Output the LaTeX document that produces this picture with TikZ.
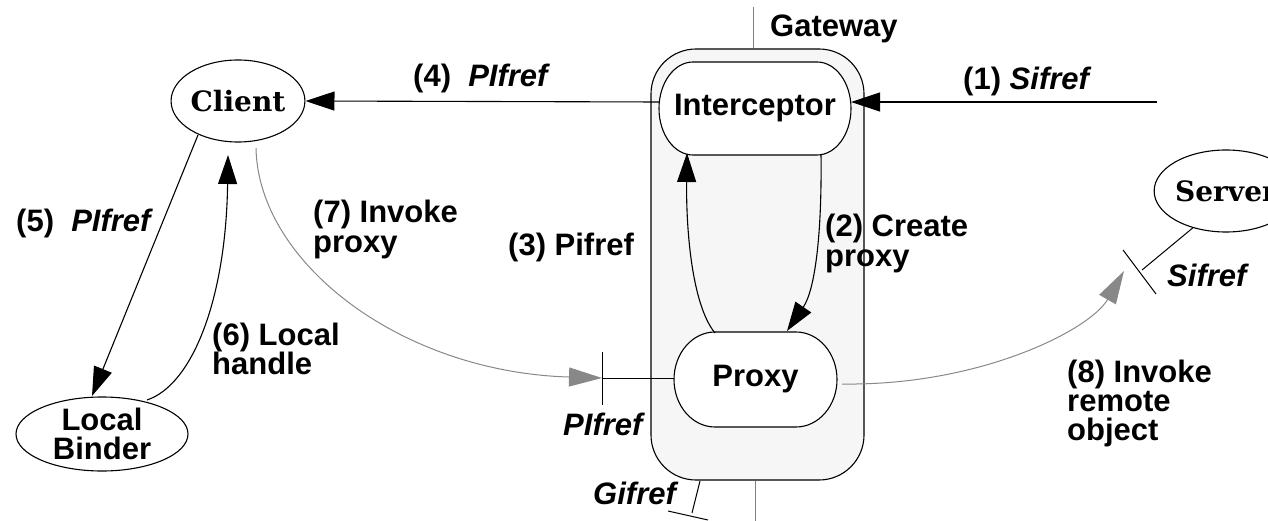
\documentclass[tikz,border=0pt]{standalone}
\usepackage{fontspec}
\setmainfont{Liberation Sans}
\newfontfamily\serifbf{DejaVu Serif}
\usetikzlibrary{arrows.meta,shapes.geometric}
\definecolor{boxfill}{HTML}{F6F6F6}
\definecolor{flow}{HTML}{888888}
\newcommand{\lblfont}{\fontsize{31}{29}\selectfont\bfseries}
\newcommand{\objfont}{\fontsize{28}{29}\selectfont\serifbf\bfseries}
% capsule outline: centre x, centre y, half width, half height, cap width
\newcommand{\capsule}[5]{%
  \draw[thin, fill=white]
    (#1-#3+#5,#2-#4) -- (#1+#3-#5,#2-#4)
    arc[start angle=-90, end angle=90, x radius=#5, y radius=#4]
    -- (#1-#3+#5,#2+#4)
    arc[start angle=90, end angle=270, x radius=#5, y radius=#4] -- cycle;}
\begin{document}
\begin{tikzpicture}[x=1pt,y=-1pt,
  lbl/.style={font=\lblfont, anchor=base west, inner sep=0pt},
  thin/.style={line width=1.1pt},
  arr/.style={thin, -{Triangle[length=29pt,width=19pt]}},
  garr/.style={draw=flow, line width=1pt, -{Triangle[length=33pt,width=19pt,fill=flow]}},
  stub/.style={line width=1pt},
  rail/.style={draw=gray, line width=1pt},
  stadium/.style={font=\lblfont, inner sep=0pt},
  oval/.style={ellipse, draw, thin, fill=white, inner sep=0pt},
]
\useasboundingbox (0,0) rectangle (1268,521);

% gateway enclosure
\node (gw) [draw, thin, fill=boxfill, rounded corners=45pt,
  minimum width=213pt, minimum height=431pt] at (757.5,264.5) {};
\coordinate (gwtop) at (753,7);
\coordinate (gwbot) at (755,521);
\draw[rail] (gwtop) -- (gwtop |- gw.north);
\draw[rail] (gwbot |- gw.south) -- (gwbot);
\node[lbl] (gwlbl) at (770,37) {Gateway};

% objects
\node (cl) [oval, font=\objfont, minimum width=116pt, minimum height=82pt] at (238,101) {Client};
\node (lb) [oval, font=\lblfont, minimum width=172pt, minimum height=74pt] at (102,434)
  {\vtop{\hbox to 0pt{\hss Local\hss}\hbox to 0pt{\hss Binder\hss}}\vphantom{L}};
\node (sv) [oval, font=\objfont, minimum width=130pt, minimum height=82pt] at (1226,191) {Server};

% (1) incoming reference
\coordinate (in1) at (1157,102);
\draw[arr] (in1) -- (in1 -| 851,0);

% (4) interceptor to client
\coordinate (out4) at (660,102);
\draw[arr] (out4) -- (cl.east);

% interceptor and proxy outlines, drawn over the connectors
\capsule{755}{108.5}{96}{46.5}{34}
\capsule{755.5}{379.5}{81.5}{47.5}{41}
\node (icp) [stadium, minimum width=192pt, minimum height=93pt] at (755,108.5) {Interceptor};
\node (px) [stadium, minimum width=163pt, minimum height=95pt] at (755.5,379.5) {Proxy};

\node[lbl] (l1) at (963,90) {(1) \textit{Sifref}};
\node[lbl] (l4) at (413,87) {(4)\ \ \textit{PIfref}};

% (2) create proxy
\coordinate (c2a) at (821,154);
\coordinate (c2b) at (787,331);
\draw[arr] (c2a) .. controls (822,235) and (815,290) .. (c2b);
\node[lbl] (l2) at (825,237) {\vtop{\hbox{(2) Create}\hbox{proxy}}};

% (3) proxy reference back to interceptor
\coordinate (c3a) at (715,333);
\coordinate (c3b) at (687,153);
\draw[arr] (c3a) .. controls (692,305) and (686,230) .. (c3b);
\node[lbl] (l3) at (508,255) {(3) Pifref};

% (5) client to local binder
\coordinate (c5a) at (198,135);
\coordinate (c5b) at (92,396);
\draw[arr] (c5a) -- (c5b);
\node[lbl] (l5) at (16,232) {(5)\ \ \textit{PIfref}};

% (6) local handle back to client
\coordinate (c6a) at (147,400);
\coordinate (c6b) at (228,155);
\draw[arr] (c6a) .. controls (192,385) and (226,300) .. (c6b);
\node[lbl] (l6) at (212,345) {\vtop{\hbox{(6) Local}\hbox{handle}}};

% PIfref interface on the proxy
\coordinate (pif) at (602,378);
\draw[stub] (602,352) -- (602,405);
\draw[stub] (pif) -- (pif -| px.west);
\node[lbl] (lpif) at (563,435) {\textit{PIfref}};

% (7) invoke proxy
\coordinate (c7a) at (256,148);
\draw[garr] (c7a) .. controls (258,262) and (400,372) .. (pif);
\node[lbl] (l7) at (313,223) {\vtop{\hbox{(7) Invoke}\hbox{proxy}}};

% Gifref interface on the gateway
\coordinate (gif) at (692,513);
\draw[stub] (700,481) -- (gif);
\draw[stub] (668,511) -- (708,520);
\node[lbl] (lgif) at (593,504) {\textit{Gifref}};

% Sifref interface on the server
\coordinate (sif) at (1142,270);
\draw[stub] (sv.228) -- (sif);
\draw[stub] (1123,250) -- (1156,294);
\node[lbl] (lsif) at (1167,287) {\textit{Sifref}};

% (8) invoke remote object
\coordinate (c8a) at (842,384);
\coordinate (c8b) at (1124,271);
\draw[garr] (c8a) .. controls (980,386) and (1090,330) .. (c8b);
\node[lbl] (l8) at (1067,382) {\vtop{\hbox{(8) Invoke}\hbox{remote}\hbox{object}}};
\end{tikzpicture}
\end{document}
